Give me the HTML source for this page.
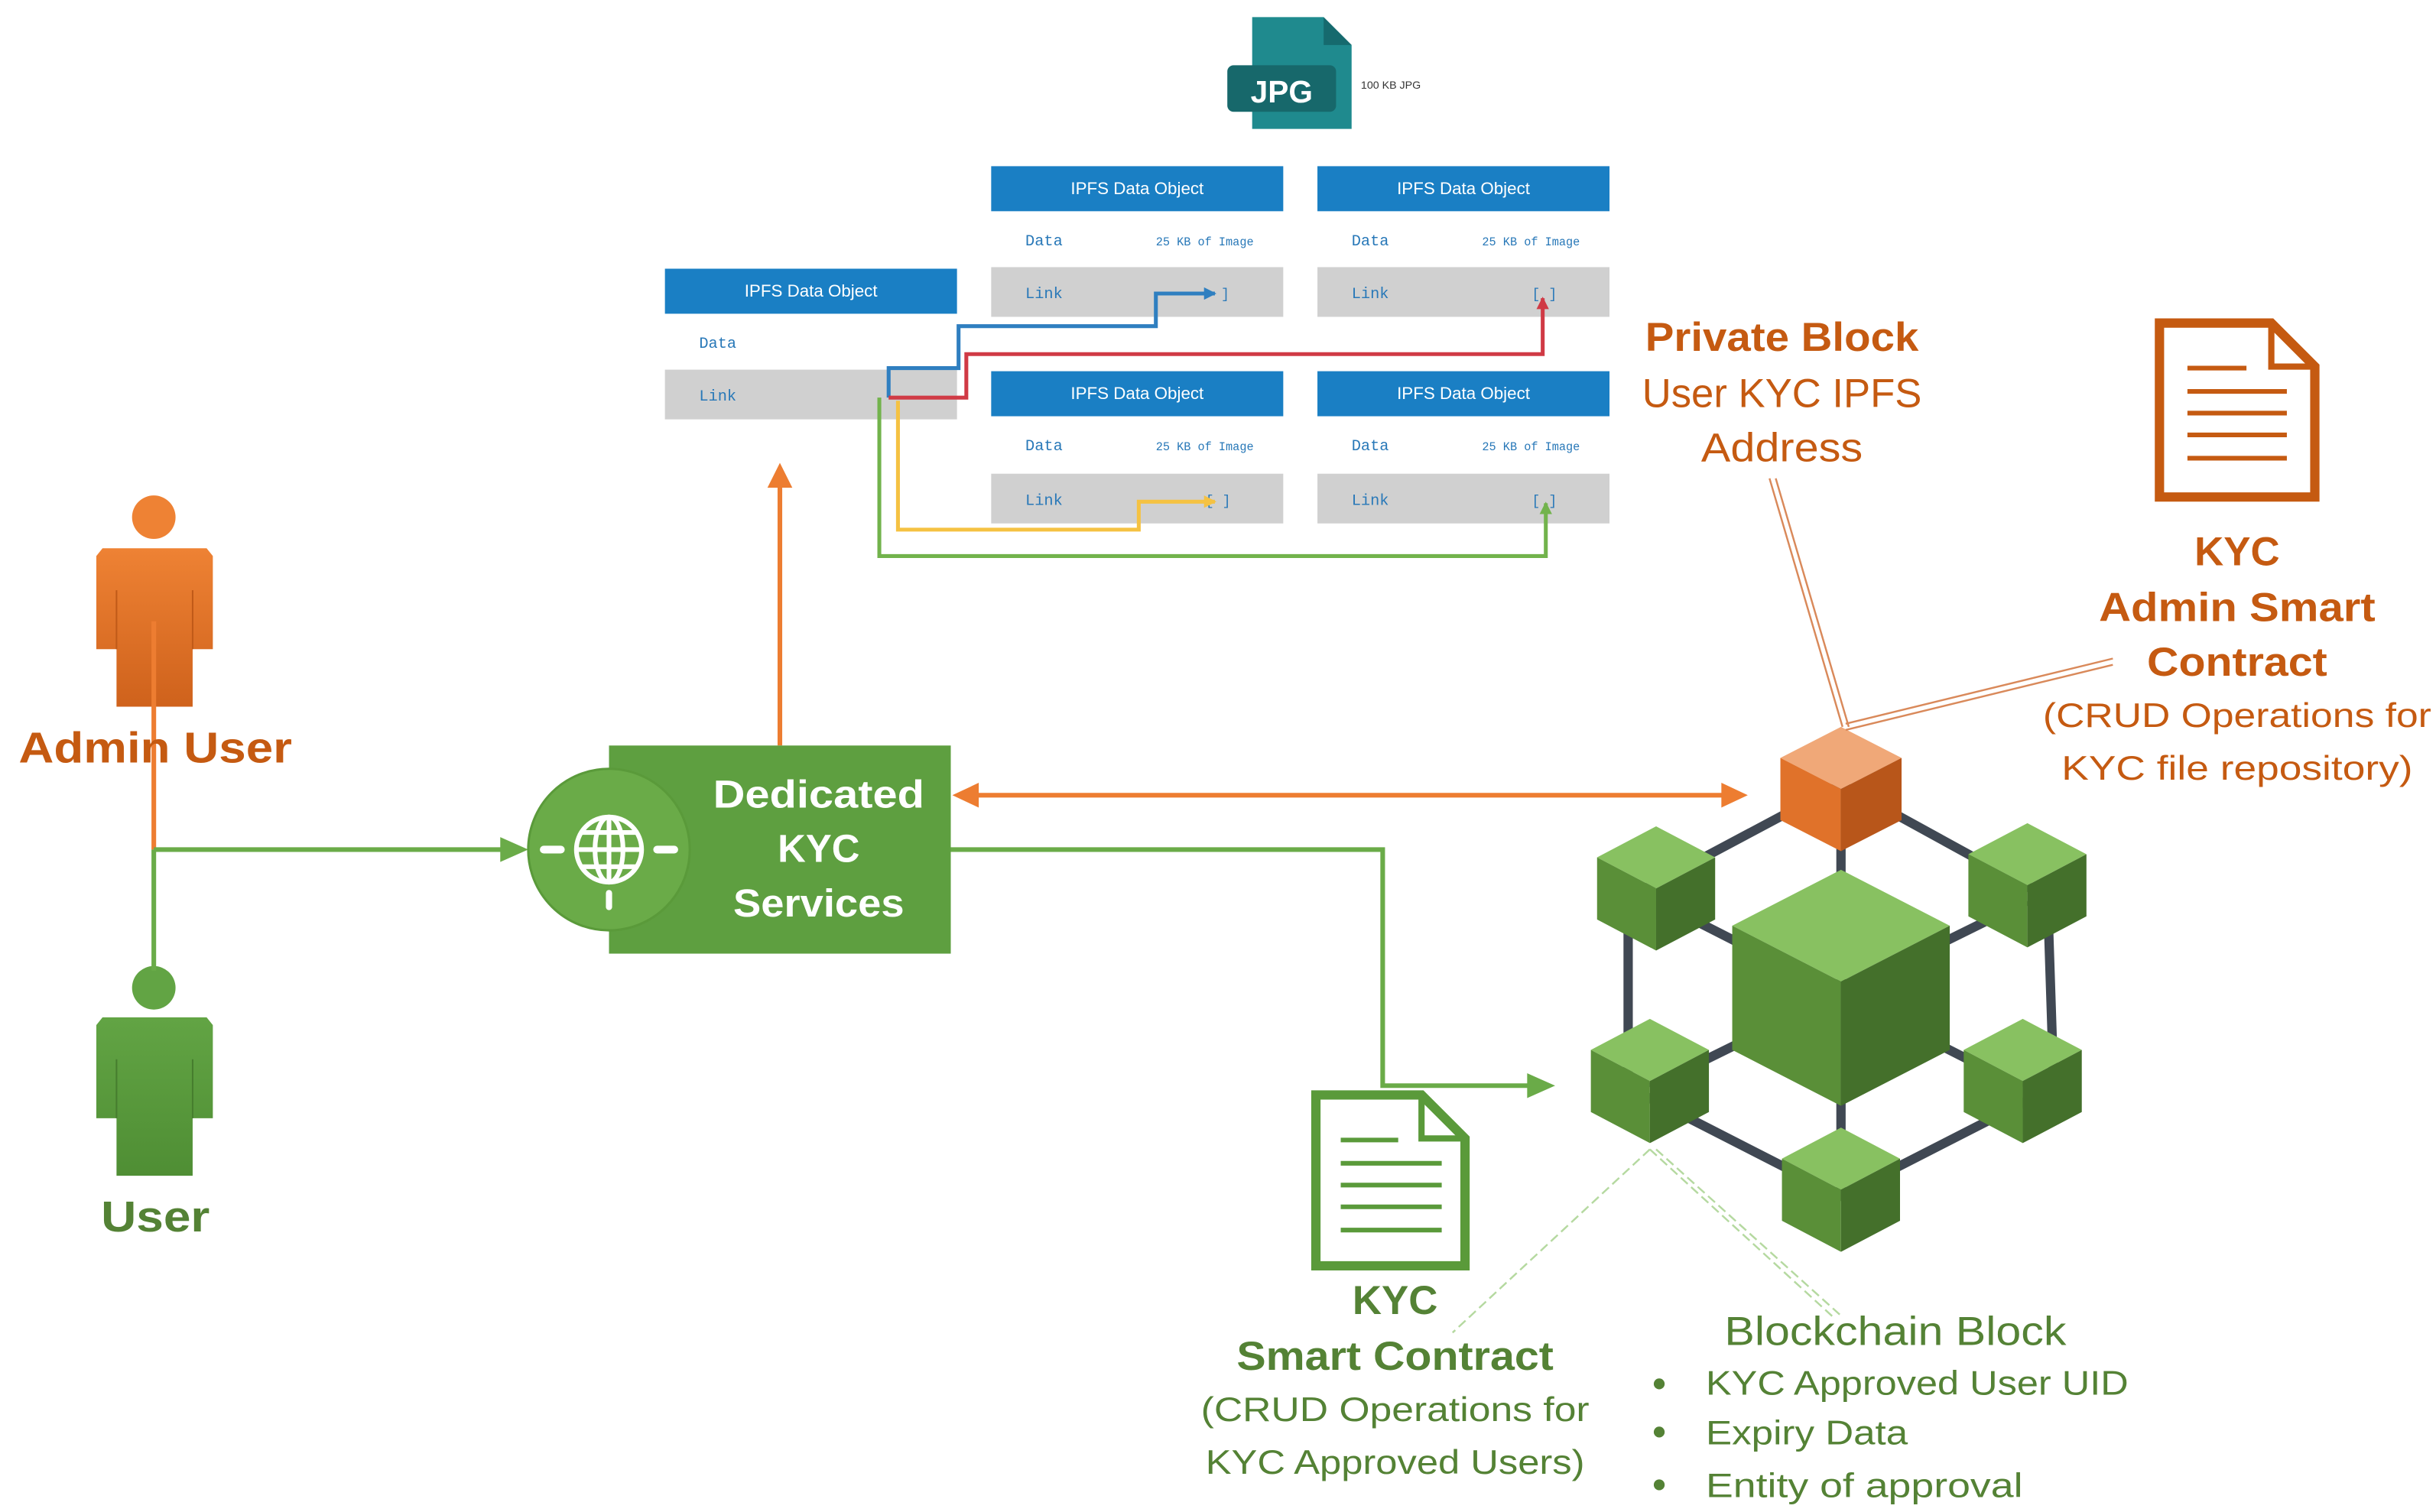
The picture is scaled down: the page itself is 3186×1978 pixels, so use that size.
<!DOCTYPE html>
<html><head><meta charset="utf-8"><style>
html,body{margin:0;padding:0;background:#fff;}
svg{display:block;}
text{font-family:"Liberation Sans",sans-serif;}
.mono{font-family:"Liberation Mono",monospace;}
</style></head><body>
<svg width="3186" height="1978" viewBox="0 0 1568 973.5" preserveAspectRatio="none" xmlns="http://www.w3.org/2000/svg">
<defs>
<linearGradient id="og" x1="0" y1="0" x2="0" y2="1"><stop offset="0" stop-color="#ee8234"/><stop offset="1" stop-color="#cf621c"/></linearGradient>
<linearGradient id="gg" x1="0" y1="0" x2="0" y2="1"><stop offset="0" stop-color="#62a444"/><stop offset="1" stop-color="#4f8e34"/></linearGradient>
<marker id="ao" markerWidth="8" markerHeight="8" refX="7" refY="4" orient="auto" markerUnits="userSpaceOnUse"><path d="M0,0 L8,4 L0,8z" fill="#ed7d31"/></marker>
<marker id="ag" markerWidth="16" markerHeight="14" refX="15" refY="7" orient="auto" markerUnits="userSpaceOnUse"><path d="M0,0 L16,7 L0,14z" fill="#6aab48"/></marker>
<marker id="aor" markerWidth="16" markerHeight="14" refX="15" refY="7" orient="auto" markerUnits="userSpaceOnUse"><path d="M0,0 L16,7 L0,14z" fill="#ed7d31"/></marker>
<marker id="sm" markerWidth="8" markerHeight="8" refX="7" refY="4" orient="auto" markerUnits="userSpaceOnUse"><path d="M0,0 L8,4 L0,8z" fill="context-stroke"/></marker>
</defs>

<!-- JPG icon -->
<path d="M806,11 H852 L870,29 V83 H806 Z" fill="#1f8a8e"/>
<path d="M852,11 L870,29 H852 Z" fill="#166a6e"/>
<rect x="790" y="42" width="70" height="30" rx="4" fill="#17686b"/>
<text x="825" y="66" font-size="20" font-weight="bold" fill="#fff" text-anchor="middle">JPG</text>
<text x="876" y="57" font-size="7" fill="#333">100 KB JPG</text>

<!-- IPFS objects -->
<g>
<rect x="638" y="107" width="188" height="29" fill="#1a7fc4"/>
<text x="732" y="125" font-size="11" fill="#fff" text-anchor="middle">IPFS Data Object</text>
<text x="660" y="158" font-size="10" fill="#2878b8" class="mono">Data</text>
<text x="744" y="158" font-size="7.5" fill="#2878b8" class="mono">25 KB of Image</text>
<rect x="638" y="172" width="188" height="32" fill="#d0d0d0"/>
<text x="660" y="192" font-size="10" fill="#2878b8" class="mono">Link</text>
<text x="786" y="192" font-size="9" fill="#2878b8" class="mono">]</text>

<rect x="848" y="107" width="188" height="29" fill="#1a7fc4"/>
<text x="942" y="125" font-size="11" fill="#fff" text-anchor="middle">IPFS Data Object</text>
<text x="870" y="158" font-size="10" fill="#2878b8" class="mono">Data</text>
<text x="954" y="158" font-size="7.5" fill="#2878b8" class="mono">25 KB of Image</text>
<rect x="848" y="172" width="188" height="32" fill="#d0d0d0"/>
<text x="870" y="192" font-size="10" fill="#2878b8" class="mono">Link</text>
<text x="986" y="192" font-size="9" fill="#2878b8" class="mono">[ ]</text>

<rect x="638" y="239" width="188" height="29" fill="#1a7fc4"/>
<text x="732" y="257" font-size="11" fill="#fff" text-anchor="middle">IPFS Data Object</text>
<text x="660" y="290" font-size="10" fill="#2878b8" class="mono">Data</text>
<text x="744" y="290" font-size="7.5" fill="#2878b8" class="mono">25 KB of Image</text>
<rect x="638" y="305" width="188" height="32" fill="#d0d0d0"/>
<text x="660" y="325" font-size="10" fill="#2878b8" class="mono">Link</text>
<text x="776" y="325" font-size="9" fill="#2878b8" class="mono">[ ]</text>

<rect x="848" y="239" width="188" height="29" fill="#1a7fc4"/>
<text x="942" y="257" font-size="11" fill="#fff" text-anchor="middle">IPFS Data Object</text>
<text x="870" y="290" font-size="10" fill="#2878b8" class="mono">Data</text>
<text x="954" y="290" font-size="7.5" fill="#2878b8" class="mono">25 KB of Image</text>
<rect x="848" y="305" width="188" height="32" fill="#d0d0d0"/>
<text x="870" y="325" font-size="10" fill="#2878b8" class="mono">Link</text>
<text x="986" y="325" font-size="9" fill="#2878b8" class="mono">[ ]</text>

<rect x="428" y="173" width="188" height="29" fill="#1a7fc4"/>
<text x="522" y="191" font-size="11" fill="#fff" text-anchor="middle">IPFS Data Object</text>
<text x="450" y="224" font-size="10" fill="#2878b8" class="mono">Data</text>
<rect x="428" y="238" width="188" height="32" fill="#d0d0d0"/>
<text x="450" y="258" font-size="10" fill="#2878b8" class="mono">Link</text>
</g>

<!-- colored link lines -->
<g fill="none" stroke-width="2.5">
<polyline points="572,256 572,237 617,237 617,210 744,210 744,189 782,189" stroke="#2f7fc0" marker-end="url(#sm)"/>
<polyline points="572,256 622,256 622,228 993,228 993,192" stroke="#d03a45" marker-end="url(#sm)"/>
<polyline points="578,258 578,341 733,341 733,323 782,323" stroke="#f5c242" marker-end="url(#sm)"/>
<polyline points="566,256 566,358 995,358 995,324" stroke="#72b34c" marker-end="url(#sm)"/>
</g>

<!-- orange up arrow -->
<line x1="502" y1="480" x2="502" y2="312" stroke="#ed7d31" stroke-width="3"/>
<path d="M494,314 L502,298 L510,314 Z" fill="#ed7d31"/>

<!-- Admin user -->
<circle cx="99" cy="333" r="14" fill="#ee8234"/>
<path d="M66,353 H133 L137,358 V418 H124 V455 H75 V418 H62 V358 Z" fill="url(#og)"/>
<line x1="75" y1="380" x2="75" y2="418" stroke="#c05a18" stroke-width="1"/>
<line x1="124" y1="380" x2="124" y2="418" stroke="#c05a18" stroke-width="1"/>
<!-- user -->
<circle cx="99" cy="636" r="14" fill="#62a444"/>
<path d="M66,655 H133 L137,660 V720 H124 V757 H75 V720 H62 V660 Z" fill="url(#gg)"/>
<line x1="75" y1="682" x2="75" y2="720" stroke="#467d2e" stroke-width="1"/>
<line x1="124" y1="682" x2="124" y2="720" stroke="#467d2e" stroke-width="1"/>

<line x1="99" y1="400" x2="99" y2="547" stroke="#ed7d31" stroke-width="3"/>
<line x1="99" y1="547" x2="99" y2="625" stroke="#6aab48" stroke-width="3"/>
<line x1="99" y1="547" x2="325" y2="547" stroke="#6aab48" stroke-width="3"/>
<path d="M322,539 L340,547 L322,555 Z" fill="#6aab48"/>

<text x="100" y="491" font-size="28" font-weight="bold" fill="#c55a11" text-anchor="middle" textLength="176" lengthAdjust="spacingAndGlyphs">Admin User</text>
<text x="100" y="793" font-size="28" font-weight="bold" fill="#548235" text-anchor="middle" textLength="70" lengthAdjust="spacingAndGlyphs">User</text>

<!-- Dedicated KYC services -->
<rect x="392" y="480" width="220" height="134" fill="#5e9f40"/>
<circle cx="392" cy="547" r="52" fill="#6aab48" stroke="#5a9a3a" stroke-width="1.5"/>
<g stroke="#fff" fill="none" stroke-width="3">
<circle cx="392" cy="547" r="21"/>
<ellipse cx="392" cy="547" rx="9" ry="21"/>
<line x1="392" y1="526" x2="392" y2="568"/>
<line x1="371" y1="547" x2="413" y2="547"/>
<line x1="375" y1="536" x2="409" y2="536"/>
<line x1="375" y1="558" x2="409" y2="558"/>
<line x1="350" y1="547" x2="361" y2="547" stroke-width="5" stroke-linecap="round"/>
<line x1="423" y1="547" x2="434" y2="547" stroke-width="5" stroke-linecap="round"/>
<line x1="392" y1="575" x2="392" y2="584" stroke-width="4" stroke-linecap="round"/>
</g>
<g font-size="25" font-weight="bold" fill="#fff" text-anchor="middle">
<text x="527" y="520" textLength="136" lengthAdjust="spacingAndGlyphs">Dedicated</text>
<text x="527" y="555">KYC</text>
<text x="527" y="590" textLength="110" lengthAdjust="spacingAndGlyphs">Services</text>
</g>

<!-- orange double arrow -->
<line x1="628" y1="512" x2="1110" y2="512" stroke="#ed7d31" stroke-width="3"/>
<path d="M630,504 L613,512 L630,520 Z" fill="#ed7d31"/>
<path d="M1108,504 L1125,512 L1108,520 Z" fill="#ed7d31"/>

<!-- green path to blockchain -->
<polyline points="612,547 890,547 890,699 985,699" fill="none" stroke="#6aab48" stroke-width="3"/>
<path d="M983,691 L1001,699 L983,707 Z" fill="#6aab48"/>

<!-- hexagon network -->
<g stroke="#404853" stroke-width="6" fill="none">
<polygon points="1185,505 1318,578 1322,700 1185,770 1048,700 1048,578"/>
<line x1="1185" y1="505" x2="1185" y2="770"/>
<line x1="1066" y1="580" x2="1302" y2="700"/>
<line x1="1305" y1="580" x2="1062" y2="700"/>
</g>

<!-- cubes -->
<g id="cubes">
<!-- big cube: cx 1185, ty 560, w 70, a 36, H 80 -->
<polygon points="1185,560 1255,596 1185,632 1115,596" fill="#88c161"/>
<polygon points="1115,596 1185,632 1185,712 1115,676" fill="#5a8f38"/>
<polygon points="1255,596 1185,632 1185,712 1255,676" fill="#44702b"/>
<!-- orange -->
<polygon points="1185,468 1224,488 1185,508 1146,488" fill="#f0a878"/>
<polygon points="1146,488 1185,508 1185,548 1146,528" fill="#e0722a"/>
<polygon points="1224,488 1185,508 1185,548 1224,528" fill="#b8561a"/>
<!-- small green cubes helper: top,left,right faces -->
<polygon points="1066,532 1104,552 1066,572 1028,552" fill="#88c161"/>
<polygon points="1028,552 1066,572 1066,612 1028,592" fill="#5a8f38"/>
<polygon points="1104,552 1066,572 1066,612 1104,592" fill="#44702b"/>

<polygon points="1305,530 1343,550 1305,570 1267,550" fill="#88c161"/>
<polygon points="1267,550 1305,570 1305,610 1267,590" fill="#5a8f38"/>
<polygon points="1343,550 1305,570 1305,610 1343,590" fill="#44702b"/>

<polygon points="1062,656 1100,676 1062,696 1024,676" fill="#88c161"/>
<polygon points="1024,676 1062,696 1062,736 1024,716" fill="#5a8f38"/>
<polygon points="1100,676 1062,696 1062,736 1100,716" fill="#44702b"/>

<polygon points="1302,656 1340,676 1302,696 1264,676" fill="#88c161"/>
<polygon points="1264,676 1302,696 1302,736 1264,716" fill="#5a8f38"/>
<polygon points="1340,676 1302,696 1302,736 1340,716" fill="#44702b"/>

<polygon points="1185,726 1223,746 1185,766 1147,746" fill="#88c161"/>
<polygon points="1147,746 1185,766 1185,806 1147,786" fill="#5a8f38"/>
<polygon points="1223,746 1185,766 1185,806 1223,786" fill="#44702b"/>
</g>

<!-- hatched callout lines -->
<g stroke="#d9895a" stroke-width="1.2" fill="none">
<line x1="1139" y1="308" x2="1186" y2="468"/>
<line x1="1143" y1="308" x2="1190" y2="468"/>
<line x1="1188" y1="466" x2="1360" y2="424"/>
<line x1="1188" y1="470" x2="1360" y2="428"/>
</g>
<!-- dashed green callout lines -->
<g stroke="#b5d9a0" stroke-width="1.2" fill="none" stroke-dasharray="6,3">
<line x1="1062" y1="740" x2="935" y2="858"/>
<line x1="1062" y1="740" x2="1180" y2="848"/>
<line x1="1066" y1="740" x2="1186" y2="848"/>
</g>

<!-- Private block text -->
<text x="1147" y="226" font-size="26" font-weight="bold" fill="#c55a11" text-anchor="middle" textLength="176" lengthAdjust="spacingAndGlyphs">Private Block</text>
<text x="1147" y="262" font-size="26" fill="#c55a11" text-anchor="middle" textLength="180" lengthAdjust="spacingAndGlyphs">User KYC IPFS</text>
<text x="1147" y="297" font-size="26" fill="#c55a11" text-anchor="middle" textLength="104" lengthAdjust="spacingAndGlyphs">Address</text>

<!-- admin doc -->
<path d="M1390,208 H1462 L1490,236 V320 H1390 Z" fill="#fff" stroke="#c55a11" stroke-width="6"/>
<path d="M1462,208 V236 H1490" fill="none" stroke="#c55a11" stroke-width="4"/>
<g stroke="#c55a11" stroke-width="3">
<line x1="1408" y1="237" x2="1446" y2="237"/>
<line x1="1408" y1="252" x2="1472" y2="252"/>
<line x1="1408" y1="266" x2="1472" y2="266"/>
<line x1="1408" y1="280" x2="1472" y2="280"/>
<line x1="1408" y1="295" x2="1472" y2="295"/>
</g>
<g fill="#c55a11" text-anchor="middle">
<text x="1440" y="364" font-size="26" font-weight="bold">KYC</text>
<text x="1440" y="400" font-size="26" font-weight="bold" textLength="178" lengthAdjust="spacingAndGlyphs">Admin Smart</text>
<text x="1440" y="435" font-size="26" font-weight="bold" textLength="116" lengthAdjust="spacingAndGlyphs">Contract</text>
<text x="1440" y="468" font-size="22" textLength="250" lengthAdjust="spacingAndGlyphs">(CRUD Operations for</text>
<text x="1440" y="502" font-size="22" textLength="226" lengthAdjust="spacingAndGlyphs">KYC  file repository)</text>
</g>

<!-- green doc -->
<path d="M847,705 H915 L943,733 V815 H847 Z" fill="#fff" stroke="#5a9a3a" stroke-width="6"/>
<path d="M915,705 V733 H943" fill="none" stroke="#5a9a3a" stroke-width="4"/>
<g stroke="#5a9a3a" stroke-width="3">
<line x1="863" y1="734" x2="900" y2="734"/>
<line x1="863" y1="749" x2="928" y2="749"/>
<line x1="863" y1="763" x2="928" y2="763"/>
<line x1="863" y1="777" x2="928" y2="777"/>
<line x1="863" y1="792" x2="928" y2="792"/>
</g>
<g fill="#548235" text-anchor="middle">
<text x="898" y="846" font-size="26" font-weight="bold">KYC</text>
<text x="898" y="882" font-size="26" font-weight="bold" textLength="204" lengthAdjust="spacingAndGlyphs">Smart Contract</text>
<text x="898" y="915" font-size="22" textLength="250" lengthAdjust="spacingAndGlyphs">(CRUD Operations for</text>
<text x="898" y="949" font-size="22" textLength="244" lengthAdjust="spacingAndGlyphs">KYC Approved Users)</text>
</g>

<!-- blockchain block text -->
<g fill="#548235">
<text x="1220" y="866" font-size="26" text-anchor="middle" textLength="220" lengthAdjust="spacingAndGlyphs">Blockchain Block</text>
<circle cx="1068" cy="891" r="3.5"/>
<circle cx="1068" cy="922" r="3.5"/>
<circle cx="1068" cy="956" r="3.5"/>
<text x="1098" y="898" font-size="22" textLength="272" lengthAdjust="spacingAndGlyphs">KYC Approved User UID</text>
<text x="1098" y="930" font-size="22" textLength="130" lengthAdjust="spacingAndGlyphs">Expiry Data</text>
<text x="1098" y="964" font-size="22" textLength="204" lengthAdjust="spacingAndGlyphs">Entity of approval</text>
</g>
</svg>
</body></html>
